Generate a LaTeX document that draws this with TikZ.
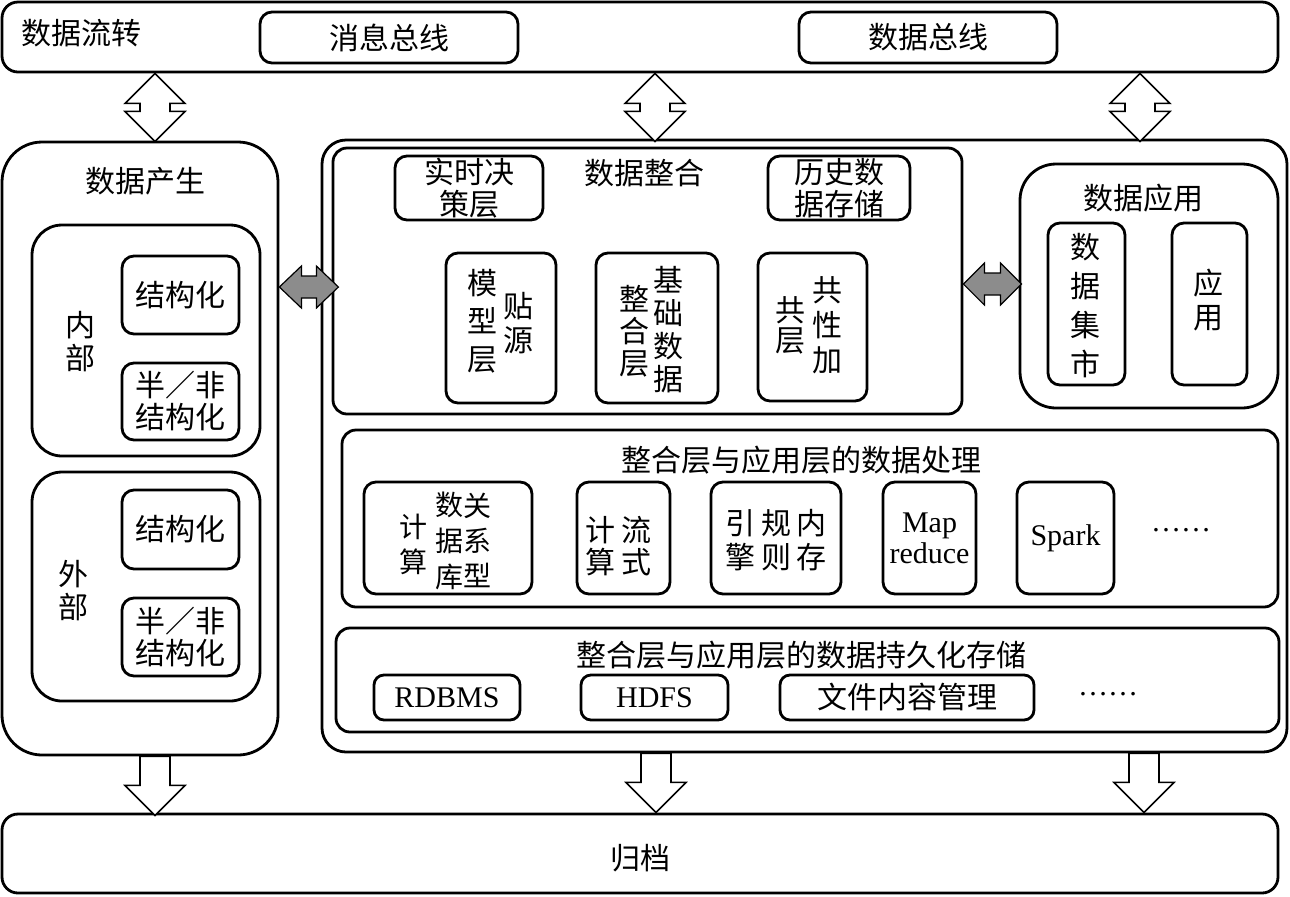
\documentclass[tikz,border=0pt]{standalone}
\usepackage{fontspec}
\setmainfont{Liberation Serif}
\newfontfamily\cjk{Noto Sans CJK SC}
\usetikzlibrary{calc}

\begin{document}
\begin{tikzpicture}[x=0.5pt, y=-0.5pt,
  frame/.style={draw, line width=1.4pt, inner sep=0pt},
    sub/.style={frame, rounded corners=6pt},
  txt/.style={font=\cjk\fontsize{15}{16}\selectfont, align=center, inner sep=0pt},
  col/.style={font=\cjk\fontsize{15}{17}\selectfont, align=center, inner sep=0pt},
  lat/.style={font=\rmfamily\fontsize{15}{15.5}\selectfont, align=center, inner sep=0pt},
  hollow/.style={draw, line width=0.8pt, fill=white},
  grayarr/.style={draw, line width=0.6pt, fill=black!45}
]
\useasboundingbox (0,0) rectangle (1290,896);
% top bar
\node[frame, rounded corners=8pt, minimum width=638pt, minimum height=35pt] (flow) at (640,37) {};
\node[txt] (flowt) at (81,33) {数据流转};
\node[sub, txt, minimum width=129pt, minimum height=25.5pt] (msg) at (389,37.5) {消息总线};
\node[sub, txt, minimum width=129pt, minimum height=25.5pt] (bus) at (928,37.5) {数据总线};
% data generation
\node[frame, rounded corners=20pt, minimum width=138pt, minimum height=306.5pt] (gen) at (140,448.5) {};
\node[txt] (gent) at (145,181) {数据产生};
\node[frame, rounded corners=15pt, minimum width=114pt, minimum height=115.5pt] (inner) at (146,340.5) {};
\node[frame, rounded corners=15pt, minimum width=114pt, minimum height=114.5pt] (outer) at (146,586.5) {};
\node[col, font=\cjk\fontsize{15}{16.5}\selectfont] (innert) at (80,342) {内\\部};
\node[col, font=\cjk\fontsize{15}{16.5}\selectfont] (outert) at (73,591) {外\\部};
\node[sub, txt, minimum width=58.5pt, minimum height=39pt] (s1) at (180.5,295) {结构化};
\node[sub, txt, minimum width=58.5pt, minimum height=38.5pt] (u1) at (180.5,401.5) {半／非\\结构化};
\node[sub, txt, minimum width=58.5pt, minimum height=39.5pt] (s2) at (180.5,529.5) {结构化};
\node[sub, txt, minimum width=58.5pt, minimum height=39pt] (u2) at (180.5,637) {半／非\\结构化};
% core panel
\node[frame, rounded corners=12pt, minimum width=482.5pt, minimum height=306pt] (core) at (804.5,446) {};
\node[frame, rounded corners=7pt, minimum width=314.5pt, minimum height=133pt] (integ) at (647.5,281) {};
\node[txt] (integt) at (644,173) {数据整合};
\node[sub, txt, minimum width=74pt, minimum height=32pt] (rt) at (469,188) {实时决\\策层};
\node[sub, txt, minimum width=71pt, minimum height=32pt] (hist) at (839,188) {历史数\\据存储};
\node[sub, minimum width=55pt, minimum height=75pt] (m1) at (501,328) {};
\node[col, font=\cjk\fontsize{15}{19}\selectfont] (m1a) at (482,321) {模\\型\\层};
\node[col] (m1b) at (518,323) {贴\\源};
\node[sub, minimum width=61pt, minimum height=75pt] (m2) at (657,328) {};
\node[col, font=\cjk\fontsize{15}{16}\selectfont] (m2a) at (634,331) {整\\合\\层};
\node[col, font=\cjk\fontsize{15}{16.5}\selectfont] (m2b) at (668,330) {基\\础\\数\\据};
\node[sub, minimum width=54.5pt, minimum height=74pt] (m3) at (812.5,327) {};
\node[col, font=\cjk\fontsize{15}{15}\selectfont] (m3a) at (790,325) {共\\层};
\node[col, font=\cjk\fontsize{15}{17.5}\selectfont] (m3b) at (827,325) {共\\性\\加};
% data application
\node[frame, rounded corners=18pt, minimum width=129pt, minimum height=122pt] (app) at (1149,286) {};
\node[txt] (appt) at (1143,198) {数据应用};
\node[sub, minimum width=38.5pt, minimum height=81pt] (mart) at (1086.5,304) {};
\node[col, font=\cjk\fontsize{15}{19.5}\selectfont] (martt) at (1085,306) {数\\据\\集\\市};
\node[sub, minimum width=37.5pt, minimum height=81pt] (use) at (1209.5,304) {};
\node[col] (uset) at (1208,300) {应\\用};
% processing
\node[frame, rounded corners=7pt, minimum width=468pt, minimum height=88.5pt] (proc) at (810,518.5) {};
\node[txt] (proct) at (801,460) {整合层与应用层的数据处理};
\node[sub, minimum width=84pt, minimum height=56pt] (p1) at (448,538) {};
\node[col, font=\cjk\fontsize{14}{17.5}\selectfont] (p1a) at (413,544) {计\\算};
\node[col, font=\cjk\fontsize{14}{18}\selectfont] (p1b) at (449,541) {数\\据\\库};
\node[col, font=\cjk\fontsize{14}{17.5}\selectfont] (p1c) at (477,540) {关\\系\\型};
\node[sub, minimum width=46.5pt, minimum height=56pt] (p2) at (623.5,538) {};
\node[col, font=\cjk\fontsize{15}{16}\selectfont] (p2a) at (600,546) {计\\算};
\node[col, font=\cjk\fontsize{15}{16}\selectfont] (p2b) at (636,546) {流\\式};
\node[sub, minimum width=65pt, minimum height=56pt] (p3) at (776,538) {};
\node[col] (p3a) at (740,540.5) {引\\擎};
\node[col] (p3b) at (776,540.5) {规\\则};
\node[col] (p3c) at (811,540.5) {内\\存};
\node[sub, lat, minimum width=46.5pt, minimum height=56pt] (p4) at (929.5,538) {Map\\reduce};
\node[sub, lat, minimum width=48.5pt, minimum height=56pt] (p5) at (1065.5,538) {Spark};
\node[lat] (dots1) at (1181,530) {……};
% storage
\node[frame, rounded corners=7pt, minimum width=471.5pt, minimum height=52pt] (store) at (807.5,680) {};
\node[txt] (storet) at (801,655) {整合层与应用层的数据持久化存储};
\node[sub, lat, rounded corners=5pt, minimum width=73pt, minimum height=22.5pt] (q1) at (447,697.5) {RDBMS};
\node[sub, lat, rounded corners=5pt, minimum width=73.5pt, minimum height=22.5pt] (q2) at (654.5,697.5) {HDFS};
\node[sub, txt, rounded corners=5pt, minimum width=127pt, minimum height=22.5pt] (q3) at (907,697.5) {文件内容管理};
\node[lat] (dots2) at (1108,694) {……};
% archive
\node[frame, rounded corners=8pt, minimum width=638pt, minimum height=39.5pt] (arch) at (640,853.5) {};
\node[txt] (archt) at (640,858) {归档};
% arrows
\foreach \x in {155,655,1140}{\draw[hollow] (flow.south -| \x,0) -- ++(30,30) -- ++(-15,0) -- ++(0,8) -- ++(15,0) -- ++(-30,30) -- ++(-30,-30) -- ++(15,0) -- ++(0,-8) -- ++(-15,0) -- cycle;}
\foreach \x/\s in {155/gen,656/core,1144/core}{\draw[hollow] (\s.south -| \x,0) ++(-15,0) -- ++(30,0) -- ++(0,29) -- ++(15,0) -- ++(-30,30) -- ++(-30,-30) -- ++(15,0) -- cycle;}
\draw[grayarr] (gen.east |- 0,287) -- ++(22,-21) -- ++(0,10) -- ++(15,0) -- ++(0,-10) -- ++(22,21) -- ++(-22,21) -- ++(0,-10) -- ++(-15,0) -- ++(0,10) -- cycle;
\draw[grayarr] (integ.east |- 0,284) -- ++(21,-21) -- ++(0,10) -- ++(16,0) -- ++(0,-10) -- ++(21,21) -- ++(-21,21) -- ++(0,-10) -- ++(-16,0) -- ++(0,10) -- cycle;
\end{tikzpicture}
\end{document}
